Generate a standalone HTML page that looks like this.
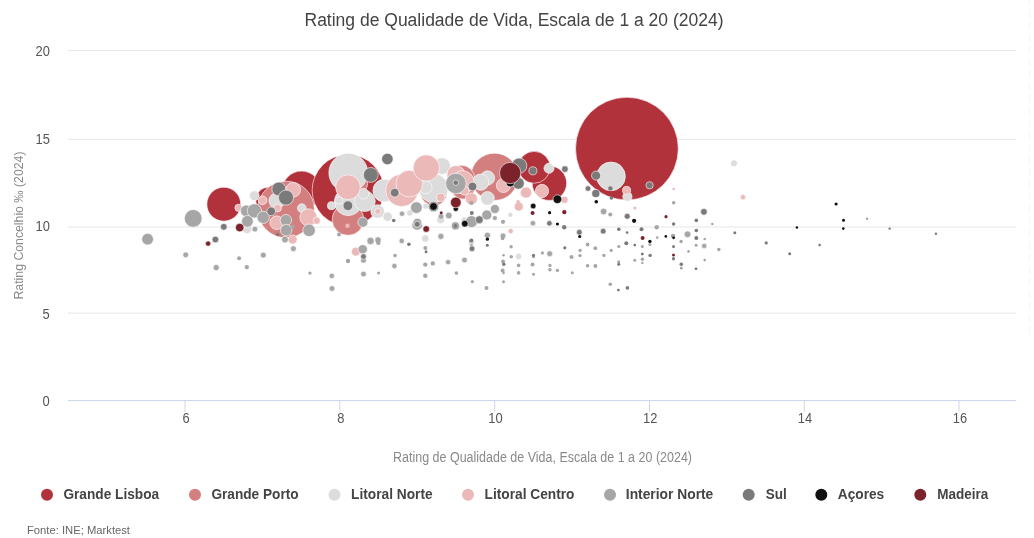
<!DOCTYPE html>
<html lang="pt"><head><meta charset="utf-8"><title>Rating de Qualidade de Vida</title>
<style>
html,body{margin:0;padding:0;background:#fff;}
body{width:1034px;height:538px;overflow:hidden;font-family:"Liberation Sans",Arial,sans-serif;}
svg{display:block}
text{font-family:"Liberation Sans",Arial,sans-serif}
.t{font-size:14px;fill:#555}
.ax{font-size:14px;fill:#8a8a8a}
.lg{font-size:13.8px;font-weight:bold;fill:#444}
</style></head><body>
<svg width="1034" height="538" viewBox="0 0 1034 538">
<rect width="1034" height="538" fill="#fff"/>
<text x="514" y="26" text-anchor="middle" font-size="18" fill="#444" textLength="419" lengthAdjust="spacingAndGlyphs">Rating de Qualidade de Vida, Escala de 1 a 20 (2024)</text>
<g stroke="#e6e6e6" stroke-width="1">
<line x1="68" x2="1016" y1="50.5" y2="50.5"/>
<line x1="68" x2="1016" y1="139.3" y2="139.3"/>
<line x1="68" x2="1016" y1="227" y2="227"/>
<line x1="68" x2="1016" y1="313.1" y2="313.1"/>
</g>
<g stroke="#ccd6eb" stroke-width="1">
<line x1="68" x2="1016" y1="400.6" y2="400.6"/>
<line x1="185" x2="185" y1="401" y2="411.7"/>
<line x1="339.8" x2="339.8" y1="401" y2="411.7"/>
<line x1="494.7" x2="494.7" y1="401" y2="411.7"/>
<line x1="649.5" x2="649.5" y1="401" y2="411.7"/>
<line x1="804.3" x2="804.3" y1="401" y2="411.7"/>
<line x1="959" x2="959" y1="401" y2="411.7"/>
</g>
<g class="t" text-anchor="end">
<text x="49.8" y="56" textLength="14.3" lengthAdjust="spacingAndGlyphs">20</text>
<text x="49.8" y="144" textLength="14.3" lengthAdjust="spacingAndGlyphs">15</text>
<text x="49.8" y="231" textLength="14.3" lengthAdjust="spacingAndGlyphs">10</text>
<text x="49.8" y="319" textLength="7.2" lengthAdjust="spacingAndGlyphs">5</text>
<text x="49.8" y="406" textLength="7.2" lengthAdjust="spacingAndGlyphs">0</text>
</g>
<g class="t" text-anchor="middle">
<text x="186" y="423" textLength="7.2" lengthAdjust="spacingAndGlyphs">6</text>
<text x="340.8" y="423" textLength="7.2" lengthAdjust="spacingAndGlyphs">8</text>
<text x="495.4" y="423" textLength="14.3" lengthAdjust="spacingAndGlyphs">10</text>
<text x="650.2" y="423" textLength="14.3" lengthAdjust="spacingAndGlyphs">12</text>
<text x="805" y="423" textLength="14.3" lengthAdjust="spacingAndGlyphs">14</text>
<text x="959.9" y="423" textLength="14.3" lengthAdjust="spacingAndGlyphs">16</text>
</g>
<text class="ax" x="542.5" y="462" text-anchor="middle" textLength="299" lengthAdjust="spacingAndGlyphs">Rating de Qualidade de Vida, Escala de 1 a 20 (2024)</text>
<text class="ax" transform="translate(23.2,225.5) rotate(-90)" text-anchor="middle" textLength="148" lengthAdjust="spacingAndGlyphs" style="font-size:13.5px">Rating Concelhio ‰ (2024)</text>
<line x1="1029.5" x2="1029.5" y1="-2.5" y2="340" stroke="#f7f7f7" stroke-width="1.6" stroke-dasharray="7.4 4.8"/>
<g id="bubbles">
<circle cx="626.9" cy="148.6" r="51.35" fill="#b2323c" stroke="#fff" stroke-opacity=".6" stroke-width="1"/>
<circle cx="301.5" cy="190.4" r="19.35" fill="#b2323c" stroke="#fff" stroke-opacity=".6" stroke-width="1"/>
<circle cx="348" cy="190.3" r="35.85" fill="#b2323c" stroke="#fff" stroke-opacity=".6" stroke-width="1"/>
<circle cx="268.5" cy="200" r="12.85" fill="#b2323c" stroke="#fff" stroke-opacity=".6" stroke-width="1"/>
<circle cx="223.8" cy="204.2" r="16.95" fill="#b2323c" stroke="#fff" stroke-opacity=".6" stroke-width="1"/>
<circle cx="549.4" cy="183.2" r="17.25" fill="#b2323c" stroke="#fff" stroke-opacity=".6" stroke-width="1"/>
<circle cx="534.2" cy="167.3" r="15.95" fill="#b2323c" stroke="#fff" stroke-opacity=".6" stroke-width="1"/>
<circle cx="286" cy="209.5" r="28.35" fill="#d47f7f" stroke="#fff" stroke-opacity=".6" stroke-width="1"/>
<circle cx="348" cy="219.5" r="15.85" fill="#d47f7f" stroke="#fff" stroke-opacity=".6" stroke-width="1"/>
<circle cx="358" cy="183.5" r="9.65" fill="#d47f7f" stroke="#fff" stroke-opacity=".6" stroke-width="1"/>
<circle cx="494.5" cy="176.8" r="23.65" fill="#d47f7f" stroke="#fff" stroke-opacity=".6" stroke-width="1"/>
<circle cx="461" cy="179" r="13.85" fill="#d47f7f" stroke="#fff" stroke-opacity=".6" stroke-width="1"/>
<circle cx="463" cy="187.5" r="11.65" fill="#d47f7f" stroke="#fff" stroke-opacity=".6" stroke-width="1"/>
<circle cx="433.8" cy="192.3" r="13.35" fill="#d47f7f" stroke="#fff" stroke-opacity=".6" stroke-width="1"/>
<circle cx="348.3" cy="172.7" r="19.45" fill="#dcdcdc" stroke="#fff" stroke-opacity=".6" stroke-width="1"/>
<circle cx="348.2" cy="201.8" r="13.85" fill="#dcdcdc" stroke="#fff" stroke-opacity=".6" stroke-width="1"/>
<circle cx="364.9" cy="201.2" r="10.35" fill="#dcdcdc" stroke="#fff" stroke-opacity=".6" stroke-width="1"/>
<circle cx="363.5" cy="193.7" r="5.35" fill="#dcdcdc" stroke="#fff" stroke-opacity=".6" stroke-width="1"/>
<circle cx="338.8" cy="200.4" r="3.85" fill="#dcdcdc" stroke="#fff" stroke-opacity=".6" stroke-width="1"/>
<circle cx="331.5" cy="205.7" r="4.05" fill="#dcdcdc" stroke="#fff" stroke-opacity=".6" stroke-width="1"/>
<circle cx="377.6" cy="211.5" r="6.85" fill="#dcdcdc" stroke="#fff" stroke-opacity=".6" stroke-width="1"/>
<circle cx="387.6" cy="216.7" r="4.65" fill="#dcdcdc" stroke="#fff" stroke-opacity=".6" stroke-width="1"/>
<circle cx="384.3" cy="190.6" r="11.35" fill="#dcdcdc" stroke="#fff" stroke-opacity=".6" stroke-width="1"/>
<circle cx="433.6" cy="188.3" r="14.55" fill="#dcdcdc" stroke="#fff" stroke-opacity=".6" stroke-width="1"/>
<circle cx="425.7" cy="187.3" r="6.35" fill="#dcdcdc" stroke="#fff" stroke-opacity=".6" stroke-width="1"/>
<circle cx="442.1" cy="166.1" r="8.35" fill="#dcdcdc" stroke="#fff" stroke-opacity=".6" stroke-width="1"/>
<circle cx="254.3" cy="195.7" r="4.85" fill="#dcdcdc" stroke="#fff" stroke-opacity=".6" stroke-width="1"/>
<circle cx="247" cy="228.8" r="4.85" fill="#dcdcdc" stroke="#fff" stroke-opacity=".6" stroke-width="1"/>
<circle cx="276.8" cy="200.7" r="7.85" fill="#dcdcdc" stroke="#fff" stroke-opacity=".6" stroke-width="1"/>
<circle cx="301.8" cy="208.1" r="4.35" fill="#dcdcdc" stroke="#fff" stroke-opacity=".6" stroke-width="1"/>
<circle cx="425.7" cy="206.3" r="2.85" fill="#dcdcdc" stroke="#fff" stroke-opacity=".6" stroke-width="1"/>
<circle cx="409.8" cy="212.9" r="3.15" fill="#dcdcdc" stroke="#fff" stroke-opacity=".6" stroke-width="1"/>
<circle cx="440.6" cy="219.8" r="3.85" fill="#dcdcdc" stroke="#fff" stroke-opacity=".6" stroke-width="1"/>
<circle cx="487.5" cy="178" r="7.15" fill="#dcdcdc" stroke="#fff" stroke-opacity=".6" stroke-width="1"/>
<circle cx="480.6" cy="182.2" r="8.15" fill="#dcdcdc" stroke="#fff" stroke-opacity=".6" stroke-width="1"/>
<circle cx="487.5" cy="198.4" r="6.85" fill="#dcdcdc" stroke="#fff" stroke-opacity=".6" stroke-width="1"/>
<circle cx="464.4" cy="219.5" r="2.75" fill="#dcdcdc" stroke="#fff" stroke-opacity=".6" stroke-width="1"/>
<circle cx="510.4" cy="214.6" r="2" fill="#dcdcdc"/>
<circle cx="494.8" cy="218.1" r="2.65" fill="#dcdcdc" stroke="#fff" stroke-opacity=".6" stroke-width="1"/>
<circle cx="510.4" cy="215" r="2" fill="#dcdcdc"/>
<circle cx="425.3" cy="238.4" r="3.65" fill="#dcdcdc" stroke="#fff" stroke-opacity=".6" stroke-width="1"/>
<circle cx="518.6" cy="256.4" r="3.05" fill="#dcdcdc" stroke="#fff" stroke-opacity=".6" stroke-width="1"/>
<circle cx="549" cy="168.3" r="5.05" fill="#dcdcdc" stroke="#fff" stroke-opacity=".6" stroke-width="1"/>
<circle cx="611" cy="176.4" r="14.35" fill="#dcdcdc" stroke="#fff" stroke-opacity=".6" stroke-width="1"/>
<circle cx="627.4" cy="196.6" r="4.65" fill="#dcdcdc" stroke="#fff" stroke-opacity=".6" stroke-width="1"/>
<circle cx="734" cy="163.3" r="3.35" fill="#dcdcdc" stroke="#fff" stroke-opacity=".6" stroke-width="1"/>
<circle cx="471.3" cy="242.3" r="3.15" fill="#dcdcdc" stroke="#fff" stroke-opacity=".6" stroke-width="1"/>
<circle cx="401.8" cy="190.4" r="16.15" fill="#ecb9b9" stroke="#fff" stroke-opacity=".6" stroke-width="1"/>
<circle cx="409.3" cy="183.7" r="13.35" fill="#ecb9b9" stroke="#fff" stroke-opacity=".6" stroke-width="1"/>
<circle cx="426.3" cy="168" r="13.15" fill="#ecb9b9" stroke="#fff" stroke-opacity=".6" stroke-width="1"/>
<circle cx="348" cy="187.2" r="12.35" fill="#ecb9b9" stroke="#fff" stroke-opacity=".6" stroke-width="1"/>
<circle cx="293.2" cy="189.8" r="7.35" fill="#ecb9b9" stroke="#fff" stroke-opacity=".6" stroke-width="1"/>
<circle cx="277.6" cy="208.1" r="3.85" fill="#ecb9b9" stroke="#fff" stroke-opacity=".6" stroke-width="1"/>
<circle cx="262.6" cy="200.4" r="4.35" fill="#ecb9b9" stroke="#fff" stroke-opacity=".6" stroke-width="1"/>
<circle cx="238.5" cy="207.8" r="3.65" fill="#ecb9b9" stroke="#fff" stroke-opacity=".6" stroke-width="1"/>
<circle cx="308.5" cy="217.4" r="8.65" fill="#ecb9b9" stroke="#fff" stroke-opacity=".6" stroke-width="1"/>
<circle cx="316.7" cy="220.7" r="3.65" fill="#ecb9b9" stroke="#fff" stroke-opacity=".6" stroke-width="1"/>
<circle cx="276.7" cy="222.7" r="6.85" fill="#ecb9b9" stroke="#fff" stroke-opacity=".6" stroke-width="1"/>
<circle cx="292.6" cy="239.5" r="4.55" fill="#ecb9b9" stroke="#fff" stroke-opacity=".6" stroke-width="1"/>
<circle cx="347.5" cy="225.7" r="2.2" fill="#ecb9b9"/>
<circle cx="377.8" cy="211.4" r="2.85" fill="#ecb9b9" stroke="#fff" stroke-opacity=".6" stroke-width="1"/>
<circle cx="440.7" cy="197.4" r="4.05" fill="#ecb9b9" stroke="#fff" stroke-opacity=".6" stroke-width="1"/>
<circle cx="456" cy="174.5" r="9.05" fill="#ecb9b9" stroke="#fff" stroke-opacity=".6" stroke-width="1"/>
<circle cx="462.5" cy="182.3" r="11.65" fill="#ecb9b9" stroke="#fff" stroke-opacity=".6" stroke-width="1"/>
<circle cx="464.5" cy="190.8" r="4.35" fill="#ecb9b9" stroke="#fff" stroke-opacity=".6" stroke-width="1"/>
<circle cx="464.2" cy="190.7" r="2" fill="#ecb9b9"/>
<circle cx="471.4" cy="198.8" r="6.05" fill="#ecb9b9" stroke="#fff" stroke-opacity=".6" stroke-width="1"/>
<circle cx="503.4" cy="185.5" r="7.05" fill="#ecb9b9" stroke="#fff" stroke-opacity=".6" stroke-width="1"/>
<circle cx="525.3" cy="192.6" r="5.35" fill="#ecb9b9" stroke="#fff" stroke-opacity=".6" stroke-width="1"/>
<circle cx="518.8" cy="206.6" r="4.55" fill="#ecb9b9" stroke="#fff" stroke-opacity=".6" stroke-width="1"/>
<circle cx="518.1" cy="201.7" r="1.8" fill="#ecb9b9"/>
<circle cx="542" cy="191" r="6.65" fill="#ecb9b9" stroke="#fff" stroke-opacity=".6" stroke-width="1"/>
<circle cx="526.1" cy="192.5" r="5.55" fill="#ecb9b9" stroke="#fff" stroke-opacity=".6" stroke-width="1"/>
<circle cx="564.5" cy="199.8" r="3.65" fill="#ecb9b9" stroke="#fff" stroke-opacity=".6" stroke-width="1"/>
<circle cx="626.6" cy="190.4" r="4.05" fill="#ecb9b9" stroke="#fff" stroke-opacity=".6" stroke-width="1"/>
<circle cx="634.9" cy="207.9" r="1.5" fill="#ecb9b9"/>
<circle cx="673.6" cy="189" r="1.3" fill="#ecb9b9"/>
<circle cx="743" cy="197.2" r="2.65" fill="#ecb9b9" stroke="#fff" stroke-opacity=".6" stroke-width="1"/>
<circle cx="355.8" cy="251.7" r="4.35" fill="#ecb9b9" stroke="#fff" stroke-opacity=".6" stroke-width="1"/>
<circle cx="510.7" cy="231.1" r="2.65" fill="#ecb9b9" stroke="#fff" stroke-opacity=".6" stroke-width="1"/>
<circle cx="193.2" cy="218.4" r="8.85" fill="#a6a6a6" stroke="#fff" stroke-opacity=".6" stroke-width="1"/>
<circle cx="147.6" cy="239.2" r="5.85" fill="#a6a6a6" stroke="#fff" stroke-opacity=".6" stroke-width="1"/>
<circle cx="246.3" cy="210.9" r="5.85" fill="#a6a6a6" stroke="#fff" stroke-opacity=".6" stroke-width="1"/>
<circle cx="254.4" cy="210.9" r="7.15" fill="#a6a6a6" stroke="#fff" stroke-opacity=".6" stroke-width="1"/>
<circle cx="247.4" cy="221.3" r="5.85" fill="#a6a6a6" stroke="#fff" stroke-opacity=".6" stroke-width="1"/>
<circle cx="254.9" cy="229.1" r="2.85" fill="#a6a6a6" stroke="#fff" stroke-opacity=".6" stroke-width="1"/>
<circle cx="263.2" cy="217.4" r="6.15" fill="#a6a6a6" stroke="#fff" stroke-opacity=".6" stroke-width="1"/>
<circle cx="285.9" cy="220.2" r="5.75" fill="#a6a6a6" stroke="#fff" stroke-opacity=".6" stroke-width="1"/>
<circle cx="286.2" cy="230.2" r="5.75" fill="#a6a6a6" stroke="#fff" stroke-opacity=".6" stroke-width="1"/>
<circle cx="292.7" cy="226.7" r="2" fill="#a6a6a6"/>
<circle cx="309.1" cy="230.3" r="6.25" fill="#a6a6a6" stroke="#fff" stroke-opacity=".6" stroke-width="1"/>
<circle cx="285" cy="239.5" r="3.35" fill="#a6a6a6" stroke="#fff" stroke-opacity=".6" stroke-width="1"/>
<circle cx="293.4" cy="248.7" r="2.85" fill="#a6a6a6" stroke="#fff" stroke-opacity=".6" stroke-width="1"/>
<circle cx="263.3" cy="255.1" r="2.95" fill="#a6a6a6" stroke="#fff" stroke-opacity=".6" stroke-width="1"/>
<circle cx="185.7" cy="254.8" r="2.85" fill="#a6a6a6" stroke="#fff" stroke-opacity=".6" stroke-width="1"/>
<circle cx="216.2" cy="267.6" r="3.05" fill="#a6a6a6" stroke="#fff" stroke-opacity=".6" stroke-width="1"/>
<circle cx="239.1" cy="258.2" r="2" fill="#a6a6a6"/>
<circle cx="246.8" cy="267.1" r="2.2" fill="#a6a6a6"/>
<circle cx="309.9" cy="273.1" r="1.7" fill="#a6a6a6"/>
<circle cx="331.8" cy="275.9" r="2.65" fill="#a6a6a6" stroke="#fff" stroke-opacity=".6" stroke-width="1"/>
<circle cx="332" cy="288.5" r="2.85" fill="#a6a6a6" stroke="#fff" stroke-opacity=".6" stroke-width="1"/>
<circle cx="339" cy="234.5" r="2" fill="#a6a6a6"/>
<circle cx="362.9" cy="222.2" r="5.05" fill="#a6a6a6" stroke="#fff" stroke-opacity=".6" stroke-width="1"/>
<circle cx="370.5" cy="240.9" r="3.65" fill="#a6a6a6" stroke="#fff" stroke-opacity=".6" stroke-width="1"/>
<circle cx="378" cy="240" r="3.15" fill="#a6a6a6" stroke="#fff" stroke-opacity=".6" stroke-width="1"/>
<circle cx="378.3" cy="242.8" r="2.2" fill="#a6a6a6"/>
<circle cx="401.7" cy="240.9" r="2.65" fill="#a6a6a6" stroke="#fff" stroke-opacity=".6" stroke-width="1"/>
<circle cx="362.7" cy="249.3" r="4.65" fill="#a6a6a6" stroke="#fff" stroke-opacity=".6" stroke-width="1"/>
<circle cx="363.5" cy="260.3" r="2.85" fill="#a6a6a6" stroke="#fff" stroke-opacity=".6" stroke-width="1"/>
<circle cx="348" cy="261" r="2.2" fill="#a6a6a6"/>
<circle cx="363.5" cy="274" r="2.85" fill="#a6a6a6" stroke="#fff" stroke-opacity=".6" stroke-width="1"/>
<circle cx="378.6" cy="272.9" r="1.5" fill="#a6a6a6"/>
<circle cx="394.4" cy="266" r="2.65" fill="#a6a6a6" stroke="#fff" stroke-opacity=".6" stroke-width="1"/>
<circle cx="395" cy="255.6" r="1.8" fill="#a6a6a6"/>
<circle cx="416.4" cy="207.6" r="5.85" fill="#a6a6a6" stroke="#fff" stroke-opacity=".6" stroke-width="1"/>
<circle cx="402" cy="213.7" r="2.65" fill="#a6a6a6" stroke="#fff" stroke-opacity=".6" stroke-width="1"/>
<circle cx="441" cy="216.5" r="2.85" fill="#a6a6a6" stroke="#fff" stroke-opacity=".6" stroke-width="1"/>
<circle cx="448.8" cy="215.5" r="3.35" fill="#a6a6a6" stroke="#fff" stroke-opacity=".6" stroke-width="1"/>
<circle cx="417.2" cy="224.8" r="5.35" fill="#a6a6a6" stroke="#fff" stroke-opacity=".6" stroke-width="1"/>
<circle cx="417.3" cy="222.7" r="4.35" fill="#a6a6a6" stroke="#fff" stroke-opacity=".6" stroke-width="1"/>
<circle cx="455.9" cy="183.5" r="10.25" fill="#a6a6a6" stroke="#fff" stroke-opacity=".6" stroke-width="1"/>
<circle cx="471.4" cy="203" r="2" fill="#a6a6a6"/>
<circle cx="494.9" cy="209" r="4.55" fill="#a6a6a6" stroke="#fff" stroke-opacity=".6" stroke-width="1"/>
<circle cx="486.8" cy="215" r="5.05" fill="#a6a6a6" stroke="#fff" stroke-opacity=".6" stroke-width="1"/>
<circle cx="471.6" cy="221.6" r="5.95" fill="#a6a6a6" stroke="#fff" stroke-opacity=".6" stroke-width="1"/>
<circle cx="494.9" cy="218.1" r="2" fill="#a6a6a6"/>
<circle cx="503" cy="221.8" r="2.1" fill="#a6a6a6"/>
<circle cx="455.4" cy="225.9" r="4.05" fill="#a6a6a6" stroke="#fff" stroke-opacity=".6" stroke-width="1"/>
<circle cx="440.9" cy="236.4" r="3.05" fill="#a6a6a6" stroke="#fff" stroke-opacity=".6" stroke-width="1"/>
<circle cx="425.3" cy="248.1" r="2" fill="#a6a6a6"/>
<circle cx="487.4" cy="235.3" r="3.15" fill="#a6a6a6" stroke="#fff" stroke-opacity=".6" stroke-width="1"/>
<circle cx="503" cy="235.8" r="2.85" fill="#a6a6a6" stroke="#fff" stroke-opacity=".6" stroke-width="1"/>
<circle cx="502.6" cy="238.4" r="1.8" fill="#a6a6a6"/>
<circle cx="511.1" cy="246.8" r="1.7" fill="#a6a6a6"/>
<circle cx="471.5" cy="245.4" r="1.5" fill="#a6a6a6"/>
<circle cx="464.5" cy="260" r="2.85" fill="#a6a6a6" stroke="#fff" stroke-opacity=".6" stroke-width="1"/>
<circle cx="448.1" cy="262.1" r="2.65" fill="#a6a6a6" stroke="#fff" stroke-opacity=".6" stroke-width="1"/>
<circle cx="432.8" cy="263.4" r="2.2" fill="#a6a6a6"/>
<circle cx="425.3" cy="264.6" r="2.2" fill="#a6a6a6"/>
<circle cx="425.3" cy="275.7" r="2.2" fill="#a6a6a6"/>
<circle cx="456.4" cy="273.1" r="1.8" fill="#a6a6a6"/>
<circle cx="472.3" cy="281.7" r="1.6" fill="#a6a6a6"/>
<circle cx="486.5" cy="288.1" r="2" fill="#a6a6a6"/>
<circle cx="503.5" cy="255.3" r="1.3" fill="#a6a6a6"/>
<circle cx="511.3" cy="256.7" r="1.8" fill="#a6a6a6"/>
<circle cx="533.5" cy="256.7" r="1.5" fill="#a6a6a6"/>
<circle cx="542.4" cy="252.9" r="1.6" fill="#a6a6a6"/>
<circle cx="549.7" cy="253.7" r="2.95" fill="#a6a6a6" stroke="#fff" stroke-opacity=".6" stroke-width="1"/>
<circle cx="503" cy="261.5" r="2" fill="#a6a6a6"/>
<circle cx="518.6" cy="265.4" r="1.8" fill="#a6a6a6"/>
<circle cx="532.5" cy="264.5" r="2" fill="#a6a6a6"/>
<circle cx="550" cy="265.4" r="1.6" fill="#a6a6a6"/>
<circle cx="549.9" cy="269.8" r="1.8" fill="#a6a6a6"/>
<circle cx="557.4" cy="270.4" r="1.7" fill="#a6a6a6"/>
<circle cx="502.6" cy="270.6" r="2" fill="#a6a6a6"/>
<circle cx="503.5" cy="272.9" r="1.3" fill="#a6a6a6"/>
<circle cx="518.6" cy="272.9" r="1.8" fill="#a6a6a6"/>
<circle cx="533.5" cy="274.2" r="1.5" fill="#a6a6a6"/>
<circle cx="503.5" cy="281.7" r="1.5" fill="#a6a6a6"/>
<circle cx="533" cy="223.3" r="2.65" fill="#a6a6a6" stroke="#fff" stroke-opacity=".6" stroke-width="1"/>
<circle cx="532.9" cy="223.2" r="2.65" fill="#a6a6a6" stroke="#fff" stroke-opacity=".6" stroke-width="1"/>
<circle cx="603.6" cy="211.5" r="3.25" fill="#a6a6a6" stroke="#fff" stroke-opacity=".6" stroke-width="1"/>
<circle cx="610.3" cy="214.4" r="2" fill="#a6a6a6"/>
<circle cx="673.7" cy="202.8" r="1.8" fill="#a6a6a6"/>
<circle cx="656.7" cy="227.2" r="2.2" fill="#a6a6a6"/>
<circle cx="687.5" cy="234.3" r="3.35" fill="#a6a6a6" stroke="#fff" stroke-opacity=".6" stroke-width="1"/>
<circle cx="704.7" cy="239" r="1.3" fill="#a6a6a6"/>
<circle cx="704.2" cy="245.9" r="2.65" fill="#a6a6a6" stroke="#fff" stroke-opacity=".6" stroke-width="1"/>
<circle cx="696.1" cy="245.3" r="1.5" fill="#a6a6a6"/>
<circle cx="681.1" cy="241.5" r="1.7" fill="#a6a6a6"/>
<circle cx="688.5" cy="251.4" r="1.3" fill="#a6a6a6"/>
<circle cx="673" cy="235.9" r="2.2" fill="#a6a6a6"/>
<circle cx="657.2" cy="237.6" r="1.3" fill="#a6a6a6"/>
<circle cx="649.9" cy="244.6" r="1.5" fill="#a6a6a6"/>
<circle cx="642.3" cy="246.4" r="1.5" fill="#a6a6a6"/>
<circle cx="618.8" cy="246.5" r="1.6" fill="#a6a6a6"/>
<circle cx="611.2" cy="250.4" r="1.6" fill="#a6a6a6"/>
<circle cx="603.9" cy="255.4" r="1.7" fill="#a6a6a6"/>
<circle cx="595.3" cy="248.2" r="1.9" fill="#a6a6a6"/>
<circle cx="587.6" cy="244.5" r="1.9" fill="#a6a6a6"/>
<circle cx="580.1" cy="250.4" r="1.6" fill="#a6a6a6"/>
<circle cx="580" cy="255.6" r="1.7" fill="#a6a6a6"/>
<circle cx="571.5" cy="257.1" r="2" fill="#a6a6a6"/>
<circle cx="587.6" cy="265.7" r="1.8" fill="#a6a6a6"/>
<circle cx="595.4" cy="265.9" r="2" fill="#a6a6a6"/>
<circle cx="572.3" cy="272.7" r="1.5" fill="#a6a6a6"/>
<circle cx="642.4" cy="259.3" r="1.7" fill="#a6a6a6"/>
<circle cx="642.3" cy="262.9" r="1.2" fill="#a6a6a6"/>
<circle cx="634.8" cy="260.3" r="1.5" fill="#a6a6a6"/>
<circle cx="618.7" cy="261.7" r="1.5" fill="#a6a6a6"/>
<circle cx="673.5" cy="258.9" r="1.5" fill="#a6a6a6"/>
<circle cx="681.3" cy="267.9" r="1.5" fill="#a6a6a6"/>
<circle cx="704.7" cy="260.1" r="1.3" fill="#a6a6a6"/>
<circle cx="610.3" cy="284.3" r="1.8" fill="#a6a6a6"/>
<circle cx="712.3" cy="224" r="1.2" fill="#a6a6a6"/>
<circle cx="718.8" cy="249.5" r="1.8" fill="#a6a6a6"/>
<circle cx="867.1" cy="218.7" r="1.2" fill="#a6a6a6"/>
<circle cx="223.8" cy="226.8" r="3.35" fill="#7a7a7a" stroke="#fff" stroke-opacity=".6" stroke-width="1"/>
<circle cx="433.5" cy="206.5" r="5.15" fill="#7a7a7a" stroke="#fff" stroke-opacity=".6" stroke-width="1"/>
<circle cx="271.2" cy="211.3" r="4.35" fill="#7a7a7a" stroke="#fff" stroke-opacity=".6" stroke-width="1"/>
<circle cx="278.8" cy="189" r="6.95" fill="#7a7a7a" stroke="#fff" stroke-opacity=".6" stroke-width="1"/>
<circle cx="286" cy="197.6" r="7.55" fill="#7a7a7a" stroke="#fff" stroke-opacity=".6" stroke-width="1"/>
<circle cx="277.6" cy="234.5" r="1.8" fill="#7a7a7a"/>
<circle cx="215.4" cy="239.5" r="3.35" fill="#7a7a7a" stroke="#fff" stroke-opacity=".6" stroke-width="1"/>
<circle cx="347.9" cy="205.7" r="4.85" fill="#7a7a7a" stroke="#fff" stroke-opacity=".6" stroke-width="1"/>
<circle cx="370.8" cy="174.9" r="7.45" fill="#7a7a7a" stroke="#fff" stroke-opacity=".6" stroke-width="1"/>
<circle cx="387.4" cy="159" r="5.75" fill="#7a7a7a" stroke="#fff" stroke-opacity=".6" stroke-width="1"/>
<circle cx="394.7" cy="192.7" r="4.35" fill="#7a7a7a" stroke="#fff" stroke-opacity=".6" stroke-width="1"/>
<circle cx="393.7" cy="220.5" r="1.8" fill="#7a7a7a"/>
<circle cx="408.9" cy="244.2" r="1.8" fill="#7a7a7a"/>
<circle cx="363.5" cy="256.5" r="2.85" fill="#7a7a7a" stroke="#fff" stroke-opacity=".6" stroke-width="1"/>
<circle cx="417.2" cy="224.3" r="3.05" fill="#7a7a7a" stroke="#fff" stroke-opacity=".6" stroke-width="1"/>
<circle cx="426.1" cy="251.7" r="1.5" fill="#7a7a7a"/>
<circle cx="455.4" cy="225.9" r="1.8" fill="#7a7a7a"/>
<circle cx="455.8" cy="182.7" r="2.75" fill="#7a7a7a" stroke="#fff" stroke-opacity=".6" stroke-width="1"/>
<circle cx="472.5" cy="186.5" r="4.35" fill="#7a7a7a" stroke="#fff" stroke-opacity=".6" stroke-width="1"/>
<circle cx="479.3" cy="219.7" r="3.95" fill="#7a7a7a" stroke="#fff" stroke-opacity=".6" stroke-width="1"/>
<circle cx="471.8" cy="213.1" r="2" fill="#7a7a7a"/>
<circle cx="471.3" cy="240.4" r="2" fill="#7a7a7a"/>
<circle cx="472" cy="248.7" r="2.85" fill="#7a7a7a" stroke="#fff" stroke-opacity=".6" stroke-width="1"/>
<circle cx="487.3" cy="245.3" r="1.5" fill="#7a7a7a"/>
<circle cx="519.2" cy="165.7" r="7.65" fill="#7a7a7a" stroke="#fff" stroke-opacity=".6" stroke-width="1"/>
<circle cx="518.3" cy="183.3" r="5.95" fill="#7a7a7a" stroke="#fff" stroke-opacity=".6" stroke-width="1"/>
<circle cx="532.9" cy="170.8" r="4.05" fill="#7a7a7a" stroke="#fff" stroke-opacity=".6" stroke-width="1"/>
<circle cx="564.9" cy="169.1" r="3.35" fill="#7a7a7a" stroke="#fff" stroke-opacity=".6" stroke-width="1"/>
<circle cx="549.4" cy="223.3" r="2.75" fill="#7a7a7a" stroke="#fff" stroke-opacity=".6" stroke-width="1"/>
<circle cx="533.5" cy="255.3" r="1.6" fill="#7a7a7a"/>
<circle cx="503.8" cy="264.3" r="1.7" fill="#7a7a7a"/>
<circle cx="596.1" cy="175.6" r="4.55" fill="#7a7a7a" stroke="#fff" stroke-opacity=".6" stroke-width="1"/>
<circle cx="610.4" cy="188.4" r="2.2" fill="#7a7a7a"/>
<circle cx="649.6" cy="185.3" r="3.65" fill="#7a7a7a" stroke="#fff" stroke-opacity=".6" stroke-width="1"/>
<circle cx="588" cy="188.5" r="2.85" fill="#7a7a7a" stroke="#fff" stroke-opacity=".6" stroke-width="1"/>
<circle cx="595.8" cy="193.5" r="4.05" fill="#7a7a7a" stroke="#fff" stroke-opacity=".6" stroke-width="1"/>
<circle cx="611.4" cy="198" r="1.8" fill="#7a7a7a"/>
<circle cx="627.2" cy="216.3" r="2.95" fill="#7a7a7a" stroke="#fff" stroke-opacity=".6" stroke-width="1"/>
<circle cx="703.9" cy="211.8" r="3.35" fill="#7a7a7a" stroke="#fff" stroke-opacity=".6" stroke-width="1"/>
<circle cx="696.3" cy="220.4" r="1.8" fill="#7a7a7a"/>
<circle cx="673.6" cy="224" r="1.7" fill="#7a7a7a"/>
<circle cx="564.2" cy="227.2" r="2.2" fill="#7a7a7a"/>
<circle cx="579.3" cy="232.2" r="2.85" fill="#7a7a7a" stroke="#fff" stroke-opacity=".6" stroke-width="1"/>
<circle cx="603.2" cy="231.2" r="2.85" fill="#7a7a7a" stroke="#fff" stroke-opacity=".6" stroke-width="1"/>
<circle cx="618.8" cy="229.3" r="1.8" fill="#7a7a7a"/>
<circle cx="627.1" cy="232.6" r="1.3" fill="#7a7a7a"/>
<circle cx="641.5" cy="229.3" r="2" fill="#7a7a7a"/>
<circle cx="696.3" cy="230.5" r="1.8" fill="#7a7a7a"/>
<circle cx="696.3" cy="237.9" r="2" fill="#7a7a7a"/>
<circle cx="626.3" cy="243.2" r="2" fill="#7a7a7a"/>
<circle cx="634.8" cy="245.1" r="1.4" fill="#7a7a7a"/>
<circle cx="564.8" cy="247.8" r="1.6" fill="#7a7a7a"/>
<circle cx="642.3" cy="253.9" r="1.5" fill="#7a7a7a"/>
<circle cx="650.1" cy="255.4" r="1.7" fill="#7a7a7a"/>
<circle cx="618.7" cy="264.2" r="1.5" fill="#7a7a7a"/>
<circle cx="673.5" cy="246.4" r="1.5" fill="#7a7a7a"/>
<circle cx="673.5" cy="258.4" r="1.5" fill="#7a7a7a"/>
<circle cx="681.3" cy="264.2" r="1.8" fill="#7a7a7a"/>
<circle cx="696" cy="268.8" r="1.4" fill="#7a7a7a"/>
<circle cx="618.4" cy="290.1" r="1.4" fill="#7a7a7a"/>
<circle cx="627.4" cy="287.9" r="1.8" fill="#7a7a7a"/>
<circle cx="734.8" cy="232.7" r="1.5" fill="#7a7a7a"/>
<circle cx="766.2" cy="242.9" r="1.6" fill="#7a7a7a"/>
<circle cx="819.6" cy="245.1" r="1.3" fill="#7a7a7a"/>
<circle cx="789.7" cy="253.8" r="1.5" fill="#7a7a7a"/>
<circle cx="889.7" cy="228.6" r="1.2" fill="#7a7a7a"/>
<circle cx="935.9" cy="233.8" r="1.2" fill="#7a7a7a"/>
<circle cx="433.5" cy="206.5" r="3.95" fill="#111111" stroke="#fff" stroke-opacity=".6" stroke-width="1"/>
<circle cx="455.8" cy="208.8" r="2.65" fill="#111111" stroke="#fff" stroke-opacity=".6" stroke-width="1"/>
<circle cx="510.3" cy="182.6" r="4.25" fill="#111111" stroke="#fff" stroke-opacity=".6" stroke-width="1"/>
<circle cx="464.8" cy="223.7" r="3.35" fill="#111111" stroke="#fff" stroke-opacity=".6" stroke-width="1"/>
<circle cx="487.4" cy="239.2" r="1.6" fill="#111111"/>
<circle cx="557.4" cy="199.2" r="4.35" fill="#111111" stroke="#fff" stroke-opacity=".6" stroke-width="1"/>
<circle cx="533.2" cy="206" r="2.85" fill="#111111" stroke="#fff" stroke-opacity=".6" stroke-width="1"/>
<circle cx="549.6" cy="212.7" r="1.6" fill="#111111"/>
<circle cx="557.4" cy="224" r="1.6" fill="#111111"/>
<circle cx="596.3" cy="201.8" r="1.8" fill="#111111"/>
<circle cx="634.1" cy="220.8" r="2.1" fill="#111111"/>
<circle cx="579.7" cy="236.5" r="1.6" fill="#111111"/>
<circle cx="649.9" cy="241.4" r="1.7" fill="#111111"/>
<circle cx="673.6" cy="237.8" r="1.4" fill="#111111"/>
<circle cx="665.8" cy="236.4" r="1.3" fill="#111111"/>
<circle cx="836.1" cy="204" r="1.6" fill="#111111"/>
<circle cx="843.5" cy="220.2" r="1.5" fill="#111111"/>
<circle cx="843.3" cy="228.6" r="1.3" fill="#111111"/>
<circle cx="796.9" cy="227.5" r="1.2" fill="#111111"/>
<circle cx="239.7" cy="227.6" r="4.25" fill="#7b222b" stroke="#fff" stroke-opacity=".6" stroke-width="1"/>
<circle cx="208.1" cy="243.6" r="2.65" fill="#7b222b" stroke="#fff" stroke-opacity=".6" stroke-width="1"/>
<circle cx="426.2" cy="229" r="3.35" fill="#7b222b" stroke="#fff" stroke-opacity=".6" stroke-width="1"/>
<circle cx="441.2" cy="212.7" r="1.5" fill="#7b222b"/>
<circle cx="455.8" cy="202.4" r="5.35" fill="#7b222b" stroke="#fff" stroke-opacity=".6" stroke-width="1"/>
<circle cx="510.2" cy="173" r="10.65" fill="#7b222b" stroke="#fff" stroke-opacity=".6" stroke-width="1"/>
<circle cx="532.6" cy="213.1" r="2" fill="#7b222b"/>
<circle cx="564.3" cy="212.1" r="2.2" fill="#7b222b"/>
<circle cx="666" cy="216.7" r="1.6" fill="#7b222b"/>
<circle cx="642.6" cy="237.9" r="2" fill="#7b222b"/>
<circle cx="673.5" cy="255.1" r="1.5" fill="#7b222b"/>
</g>
<g id="legend">
<circle cx="47" cy="494.8" r="6" fill="#b2323c"/><text class="lg" x="63.4" y="499" textLength="95.7" lengthAdjust="spacingAndGlyphs">Grande Lisboa</text>
<circle cx="195" cy="494.8" r="6" fill="#d47f7f"/><text class="lg" x="211.4" y="499" textLength="87.2" lengthAdjust="spacingAndGlyphs">Grande Porto</text>
<circle cx="334.5" cy="494.8" r="6" fill="#dcdcdc"/><text class="lg" x="351.1" y="499" textLength="81.5" lengthAdjust="spacingAndGlyphs">Litoral Norte</text>
<circle cx="468" cy="494.8" r="6" fill="#ecb9b9"/><text class="lg" x="484.6" y="499" textLength="89.8" lengthAdjust="spacingAndGlyphs">Litoral Centro</text>
<circle cx="610" cy="494.8" r="6" fill="#a6a6a6"/><text class="lg" x="625.8" y="499" textLength="87.5" lengthAdjust="spacingAndGlyphs">Interior Norte</text>
<circle cx="748.7" cy="494.8" r="6" fill="#7a7a7a"/><text class="lg" x="765.8" y="499" textLength="21.0" lengthAdjust="spacingAndGlyphs">Sul</text>
<circle cx="821.3" cy="494.8" r="6" fill="#111"/><text class="lg" x="837.8" y="499" textLength="46.4" lengthAdjust="spacingAndGlyphs">Açores</text>
<circle cx="920.3" cy="494.8" r="6" fill="#7b222b"/><text class="lg" x="937.2" y="499" textLength="51.099999999999994" lengthAdjust="spacingAndGlyphs">Madeira</text>
</g>
<text x="27" y="533.5" font-size="11.2" fill="#666" textLength="103" lengthAdjust="spacingAndGlyphs">Fonte: INE; Marktest</text>
</svg>
</body></html>
